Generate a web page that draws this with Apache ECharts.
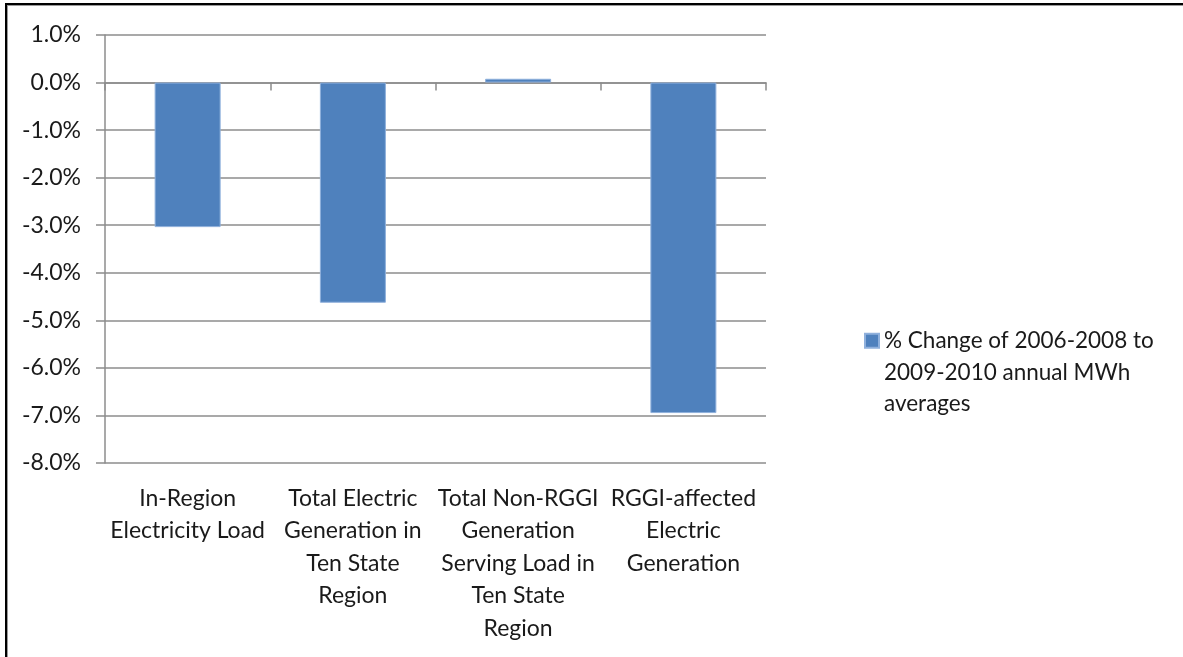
<!DOCTYPE html>
<html>
<head>
<meta charset="utf-8">
<script src="https://cdn.jsdelivr.net/npm/echarts@6/dist/echarts.min.js"></script>
<style>
  html, body { margin: 0; padding: 0; background: #fff; }
  #frame {
    position: absolute; left: 5px; top: 3px; width: 1200px; height: 700px;
    border-top: 2px solid #000; border-left: 2px solid #000;
    box-shadow: inset 1px 1px 0 #9a9a9a;
  }
  #chart { position: absolute; left: 0; top: 0; width: 1183px; height: 657px; }
</style>
</head>
<body>
<div id="frame"></div>
<div id="chart"></div>
<script>
// Categories along the horizontal axis
const categories = [
  'In-Region\nElectricity Load',
  'Total Electric\nGeneration in\nTen State\nRegion',
  'Total Non-RGGI\nGeneration\nServing Load in\nTen State\nRegion',
  'RGGI-affected\nElectric\nGeneration'
];
// Percent change values (in %)
const pctChange = [-3.04, -4.63, 0.08, -6.95];
const seriesName = '% Change of 2006-2008 to\n2009-2010 annual MWh\naverages';
// Value axis range (in %)
const yMin = -8, yMax = 1, yStep = 1;

const FONT = 'Lato, "Open Sans", sans-serif';
const GRID = '#8c8c8c';
const LEGEND_LINE = 31.5;

// Legend swatch sits beside the first text line: a square at the top of a
// tall, otherwise empty icon box that spans all three lines.
const swatchIcon = 'path://M0,0L0.01,0Z M0,8.75L14,8.75L14,22.75L0,22.75Z M0,94.5L0.01,94.5Z';

const chart = echarts.init(document.getElementById('chart'), null, { renderer: 'canvas' });
chart.setOption({
  backgroundColor: 'transparent',
  animation: false,
  grid: { left: 105, right: 417, top: 35, bottom: 194, containLabel: false },
  legend: {
    show: true,
    left: 864,
    top: 324,
    padding: 0,
    orient: 'vertical',
    itemWidth: 14,
    itemHeight: LEGEND_LINE * 3,
    itemGap: 0,
    icon: swatchIcon,
    data: [seriesName],
    textStyle: { fontFamily: FONT, fontSize: 22.5, color: '#1a1a1a', lineHeight: LEGEND_LINE }
  },
  xAxis: [
    {
      type: 'category',
      data: categories,
      axisLine: { show: true, onZero: true, lineStyle: { color: GRID, width: 1.5 } },
      axisTick: { show: true, length: 8, lineStyle: { color: GRID, width: 1.5 } },
      axisLabel: { show: false },
      splitLine: { show: false }
    },
    {
      type: 'category',
      data: categories,
      position: 'bottom',
      axisLine: { show: false, onZero: false },
      axisTick: { show: false },
      axisLabel: {
        show: true, interval: 0, margin: 19,
        fontFamily: FONT, fontSize: 23, color: '#1a1a1a', lineHeight: 32.5, align: 'center'
      },
      splitLine: { show: false }
    }
  ],
  yAxis: {
    type: 'value',
    min: yMin, max: yMax, interval: yStep,
    axisLine: { show: true, lineStyle: { color: GRID, width: 1.5 } },
    axisTick: { show: true, length: 9, lineStyle: { color: GRID, width: 1.5 } },
    axisLabel: {
      margin: 24, fontFamily: FONT, fontSize: 23, color: '#1a1a1a',
      formatter: v => v.toFixed(1) + '%'
    },
    splitLine: { show: true, lineStyle: { color: GRID, width: 1.5 } }
  },
  series: [{
    name: seriesName,
    type: 'bar',
    xAxisIndex: 0,
    data: pctChange,
    barWidth: 66,
    itemStyle: { color: '#4F81BD', borderColor: '#8fb0dc', borderWidth: 1 }
  }]
});
</script>
</body>
</html>
